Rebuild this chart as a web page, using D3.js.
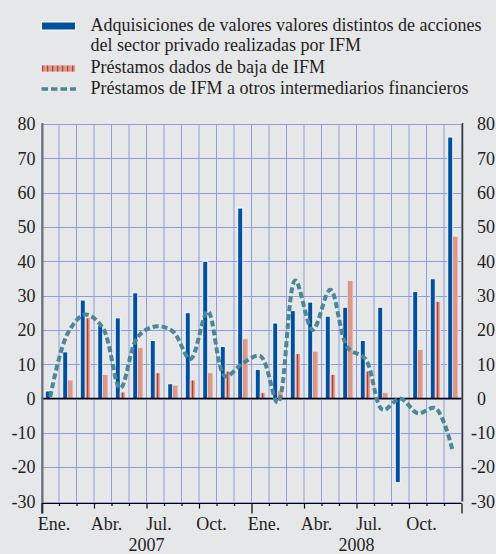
<!DOCTYPE html>
<html>
<head>
<meta charset="utf-8">
<script src="https://cdn.jsdelivr.net/npm/d3@7"></script>
<style>
    html, body { margin: 0; padding: 0; background: #e6e7e9; }
    svg { display: block; }
</style>
</head>
<body>
<div id="chart"></div>
<script>
/*jslint browser: true*/

// one entry per month, Ene. 2007 .. Dic. 2008
var months = d3.range(24).map(function (i) { return 'm' + i; });
var monthLabels = ['Ene.', '', '', 'Abr.', '', '', 'Jul.', '', '', 'Oct.', '', '',
                   'Ene.', '', '', 'Abr.', '', '', 'Jul.', '', '', 'Oct.', '', ''];
var years = ['2007', '2008'];

var adquisiciones = [2.2, 13.6, 28.7, 21.3, 23.5, 30.8, 16.9, 4.3, 25, 40, 15.2, 55.5,
                     8.5, 22, 25.6, 28.1, 24, 26.6, 16.9, 26.6, -24.5, 31.2, 34.9, 76.2];
var prestamosBaja = [0, 5.4, 23.5, 7, 1.9, 14.8, 7.5, 3.9, 5.4, 7.5, 8, 17.4,
                     1.7, 2.2, 13.1, 13.8, 7, 34.4, 8, 1.7, 0, 14.3, 28.3, 47.3];
var prestamosOIF = [0.5, 19, 24.5, 20.6, 3, 18, 21, 19.6, 11.5, 25.4, 6.5, 10.3,
                    12.4, -1.2, 34.4, 20, 31.7, 14.8, 11.6, -3.3, 0, -4.3, -2.8, -15.3];
var yTicks = [-30, -20, -10, 0, 10, 20, 30, 40, 50, 60, 70, 80];

var legendLines = [
    ['Adquisiciones de valores valores distintos de acciones', 'del sector privado realizadas por IFM'],
    ['Préstamos dados de baja de IFM'],
    ['Préstamos de IFM a otros intermediarios financieros']
];

(function (d3) {
    'use strict';

    var W = 496, H = 554;
    var blue = '#00509f', salmon = '#d99a8b', red = '#b63a35', teal = '#4c8797';
    var grid = '#8d9edb', txt = '#231f20';
    var fs = 18;

    var svg = d3.select('#chart').append('svg')
        .attr('width', W).attr('height', H)
        .attr('font-family', 'Liberation Serif');

    svg.append('rect').attr('width', W).attr('height', H).attr('fill', '#e6e7e9');

    // striped fill for the write-off bars
    var pat = svg.append('defs').append('pattern')
        .attr('id', 'stripes')
        .attr('patternUnits', 'userSpaceOnUse')
        .attr('width', 5).attr('height', 10);
    pat.append('rect').attr('width', 5).attr('height', 10).attr('fill', salmon);
    pat.append('rect').attr('x', 2).attr('width', 1.2).attr('height', 10).attr('fill', red);

    var x = d3.scaleBand().domain(months).range([41.5, 461.5]).padding(0);
    var y = d3.scaleLinear().domain([-30, 80]).range([501.5, 124]);
    var bw = x.bandwidth();
    var left = x.range()[0], right = x.range()[1];

    // grid
    var g = svg.append('g');
    g.selectAll('.hg').data(yTicks).enter().append('line')
        .attr('x1', left).attr('x2', right)
        .attr('y1', function (d) { return Math.round(y(d)) + 0.5; })
        .attr('y2', function (d) { return Math.round(y(d)) + 0.5; })
        .attr('stroke', grid).attr('stroke-width', 1);
    g.selectAll('.vg').data(d3.range(25)).enter().append('line')
        .attr('x1', function (i) { return left + i * bw; })
        .attr('x2', function (i) { return left + i * bw; })
        .attr('y1', y(80)).attr('y2', y(-30))
        .attr('stroke', grid).attr('stroke-width', 1);

    // bars
    svg.selectAll('.b1').data(adquisiciones).enter().append('rect')
        .attr('x', function (d, i) { return x(months[i]) + bw / 2 - 5; })
        .attr('width', 5)
        .attr('y', function (d) { return y(Math.max(0, d)); })
        .attr('height', function (d) { return Math.abs(y(d) - y(0)); })
        .attr('fill', blue).attr('stroke', '#fff').attr('stroke-width', 0.9);
    svg.selectAll('.b2').data(prestamosBaja).enter().append('rect')
        .attr('x', function (d, i) { return x(months[i]) + bw / 2; })
        .attr('width', 5)
        .attr('y', function (d) { return y(Math.max(0, d)); })
        .attr('height', function (d) { return Math.abs(y(d) - y(0)); })
        .attr('fill', 'url(#stripes)').attr('stroke', '#f3e4df').attr('stroke-width', 0.8)
        .style('display', function (d) { return d === 0 ? 'none' : null; });

    // zero line
    svg.append('line')
        .attr('x1', left).attr('x2', right)
        .attr('y1', y(0)).attr('y2', y(0))
        .attr('stroke', '#000').attr('stroke-width', 1.5);

    // dashed line
    var line = d3.line()
        .x(function (d, i) { return x(months[i]) + bw / 2; })
        .y(function (d) { return y(d); })
        .curve(d3.curveCatmullRom.alpha(0.5));
    svg.append('path').datum(prestamosOIF)
        .attr('d', line)
        .attr('fill', 'none').attr('stroke', teal)
        .attr('stroke-width', 4).attr('stroke-dasharray', '6,3');

    // side axes
    var axisBottom = y(-30) + 2;
    svg.append('line').attr('x1', left + 1).attr('x2', left + 1)
        .attr('y1', y(80) - 1).attr('y2', axisBottom + 10)
        .attr('stroke', '#6d6e71').attr('stroke-width', 2);
    svg.append('line').attr('x1', right + 1).attr('x2', right + 1)
        .attr('y1', y(80) - 1).attr('y2', y(-30))
        .attr('stroke', '#3a3a3c').attr('stroke-width', 1.5);

    svg.selectAll('.yl').data(yTicks).enter().append('text')
        .attr('x', 35.5).attr('y', function (d) { return y(d); })
        .attr('dy', '0.35em').attr('text-anchor', 'end')
        .attr('font-size', fs).attr('fill', txt)
        .text(function (d) { return d; });
    // right labels: digits start at the same x, minus sign hangs to the left
    svg.selectAll('.yr').data(yTicks).enter().append('text')
        .attr('x', function (d) { return d < 0 ? 471 : 477; })
        .attr('y', function (d) { return y(d); })
        .attr('dy', '0.35em').attr('text-anchor', 'start')
        .attr('font-size', fs).attr('fill', txt)
        .text(function (d) { return d; });

    // bottom axis with month, quarter and year ticks
    svg.append('line').attr('x1', left).attr('x2', right)
        .attr('y1', axisBottom).attr('y2', axisBottom)
        .attr('stroke', '#000').attr('stroke-width', 1.2);
    svg.selectAll('.xt').data(d3.range(25)).enter().append('line')
        .attr('x1', function (i) { return left + i * bw + 0.5; })
        .attr('x2', function (i) { return left + i * bw + 0.5; })
        .attr('y1', axisBottom)
        .attr('y2', function (i) {
            if (i % 12 === 0) { return axisBottom + 10; }
            if (i % 3 === 0) { return axisBottom + 5; }
            return axisBottom + 2.5;
        })
        .attr('stroke', '#000').attr('stroke-width', 1.2);

    svg.selectAll('.xl').data(monthLabels).enter().append('text')
        .attr('x', function (d, i) { return x(months[i]) + 12.5; })
        .attr('y', 529.5).attr('text-anchor', 'middle')
        .attr('font-size', fs).attr('fill', txt)
        .text(function (d) { return d; });
    svg.selectAll('.yr2').data(years).enter().append('text')
        .attr('x', function (d, i) { return left + (i * 12 + 6) * bw; })
        .attr('y', 550.5).attr('text-anchor', 'middle')
        .attr('font-size', fs).attr('fill', txt)
        .text(function (d) { return d; });

    // legend
    var lg = svg.append('g');
    lg.append('rect').attr('x', 41.5).attr('y', 22).attr('width', 34).attr('height', 8)
        .attr('fill', blue).attr('stroke', '#fff').attr('stroke-width', 1);
    lg.append('rect').attr('x', 41.5).attr('y', 65).attr('width', 34).attr('height', 7)
        .attr('fill', 'url(#stripes)').attr('stroke', '#f3e4df').attr('stroke-width', 0.8);
    lg.append('line').attr('x1', 41.5).attr('x2', 76).attr('y1', 89).attr('y2', 89)
        .attr('stroke', teal).attr('stroke-width', 3.5).attr('stroke-dasharray', '6.5,3');

    var baselines = [[30.5, 50.5], [72.5], [94]];
    legendLines.forEach(function (lines, k) {
        lines.forEach(function (t, j) {
            lg.append('text').attr('x', 90.5).attr('y', baselines[k][j])
                .attr('font-size', fs).attr('fill', txt).text(t);
        });
    });

}(window.d3));
</script>
</body>
</html>
